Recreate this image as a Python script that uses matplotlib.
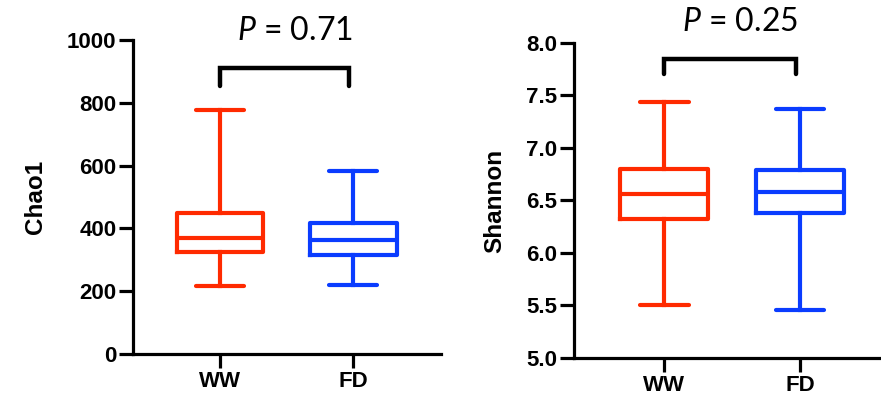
import matplotlib
matplotlib.use("Agg")
import matplotlib.pyplot as plt

# values
groups = ["WW", "FD"]
colors = ["#ff2a00", "#0a3cff"]

chao1_low = [217, 220]
chao1_q1 = [325, 315]
chao1_med = [369, 363]
chao1_q3 = [449, 417]
chao1_high = [777, 583]
chao1_ticks = [0, 200, 400, 600, 800, 1000]

shannon_low = [5.50, 5.46]
shannon_q1 = [6.32, 6.38]
shannon_med = [6.56, 6.58]
shannon_q3 = [6.80, 6.79]
shannon_high = [7.44, 7.37]
shannon_ticks = [5.0, 5.5, 6.0, 6.5, 7.0, 7.5, 8.0]

p_chao1 = "0.71"
p_shannon = "0.25"

plt.rcParams['font.family'] = ['Liberation Sans', 'DejaVu Sans']
plt.rcParams['mathtext.fontset'] = 'custom'
plt.rcParams['mathtext.it'] = 'Lato:italic'
plt.rcParams['mathtext.rm'] = 'Lato'

fig = plt.figure(figsize=(8.81, 3.98), dpi=100)
ax1 = fig.add_axes([0.151, 0.1106, 0.350, 0.789])
ax2 = fig.add_axes([0.6515, 0.1005, 0.350, 0.7915])


def draw_panel(ax, low, q1, med, q3, high, ticks, ylabel, ylim, xlim,
               br_top, br_bot, p_txt, p_y, fmt, lpad):
    stats = []
    for i in range(len(groups)):
        stats.append({'whislo': low[i], 'q1': q1[i], 'med': med[i],
                      'q3': q3[i], 'whishi': high[i], 'fliers': []})
    bp = ax.bxp(stats, positions=[1, 2], widths=0.65, showfliers=False,
                capwidths=0.36, patch_artist=False)
    for i, c in enumerate(colors):
        bp['boxes'][i].set(color=c, linewidth=3.0)
        bp['medians'][i].set(color=c, linewidth=3.0)
        for k in (2 * i, 2 * i + 1):
            bp['whiskers'][k].set(color=c, linewidth=3.0)
            bp['caps'][k].set(color=c, linewidth=3.0, solid_capstyle='round')

    # significance bracket
    ax.plot([1, 1, 1.97, 1.97], [br_bot, br_top, br_top, br_bot], color='black',
            linewidth=3.2, solid_capstyle='round', solid_joinstyle='miter',
            clip_on=False)
    ax.text(1.56, p_y, "$\\it{P}$ = " + p_txt, ha='center', va='center',
            fontsize=23, family=['Lato', 'DejaVu Sans'], clip_on=False)

    ax.set_ylim(*ylim)
    ax.set_xlim(*xlim)
    ax.set_yticks(ticks)
    ax.set_yticklabels([fmt.format(t) for t in ticks], fontsize=16, fontweight='bold')
    ax.set_xticks([1, 2])
    ax.set_xticklabels(groups, fontsize=16, fontweight='bold')
    ax.set_ylabel(ylabel, fontsize=17.5, fontweight='bold', labelpad=lpad)
    for s in ('top', 'right'):
        ax.spines[s].set_visible(False)
    for s in ('left', 'bottom'):
        ax.spines[s].set_linewidth(2.3)
    ax.tick_params(width=2.3, length=10, pad=2)


draw_panel(ax1, chao1_low, chao1_q1, chao1_med, chao1_q3, chao1_high,
           chao1_ticks, "Chao1", (0, 1000), (0.346, 2.66),
           911, 853, p_chao1, 1030, "{:.0f}", 14)
draw_panel(ax2, shannon_low, shannon_q1, shannon_med, shannon_q3, shannon_high,
           shannon_ticks, "Shannon", (5.0, 8.0), (0.333, 2.607),
           7.85, 7.70, p_shannon, 8.2, "{:.1f}", 14)

fig.savefig("out.png", dpi=100)
